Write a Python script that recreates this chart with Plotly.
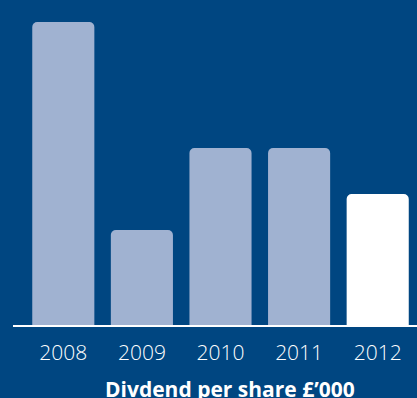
import plotly.graph_objects as go

# Dividend per share by year
years = ["2008", "2009", "2010", "2011", "2012"]
dividend = [30.3, 9.5, 17.7, 17.7, 13.1]
bar_colors = ["#A0B2D1", "#A0B2D1", "#A0B2D1", "#A0B2D1", "#FFFFFF"]

BG = "#004681"

fig = go.Figure(
    go.Bar(
        x=years,
        y=dividend,
        marker=dict(color=bar_colors, line=dict(width=0), cornerradius=5),
        hoverinfo="x+y",
    )
)

fig.update_layout(
    width=417,
    height=398,
    margin=dict(l=24, r=0, t=0, b=73),
    paper_bgcolor=BG,
    plot_bgcolor=BG,
    bargap=0.21,
    showlegend=False,
    font=dict(family="Open Sans, Lato, sans-serif", color="white"),
    xaxis=dict(
        type="category",
        range=[-0.5, 4.5],
        showgrid=False,
        zeroline=False,
        showline=False,
        ticks="",
        tickfont=dict(size=21, color="white", weight=300),
        ticklabelstandoff=13,
    ),
    yaxis=dict(
        range=[0, 32.5],
        visible=False,
        fixedrange=True,
    ),
    annotations=[
        dict(
            text="<b>Divdend per share £’000</b>",
            xref="paper",
            yref="paper",
            x=0.524,
            y=-0.148,
            xanchor="center",
            yanchor="top",
            showarrow=False,
            font=dict(size=21, color="white"),
        )
    ],
    shapes=[
        dict(
            type="line",
            xref="paper",
            yref="paper",
            x0=-0.028,
            x1=1.0,
            y0=-0.003,
            y1=-0.003,
            line=dict(color="white", width=2),
        )
    ],
)

fig.write_html("out.html")
